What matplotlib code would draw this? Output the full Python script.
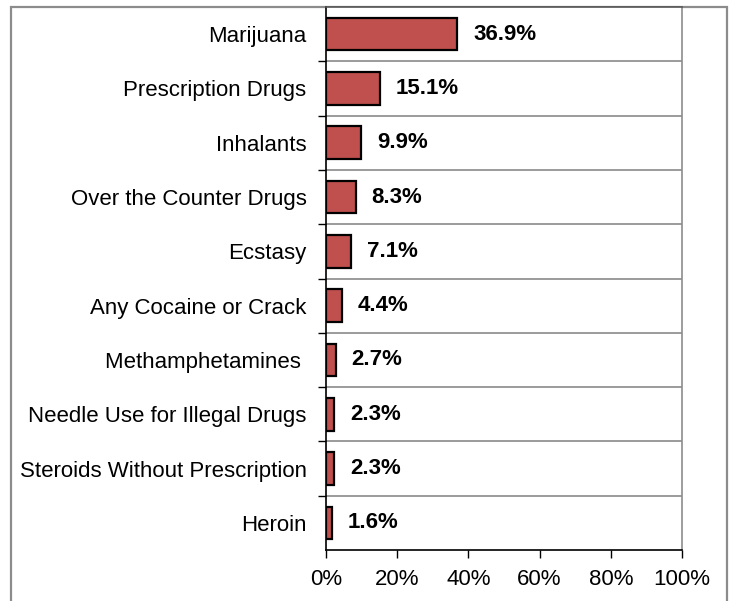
import matplotlib.pyplot as plt
import matplotlib.patches as patches
from matplotlib.ticker import FuncFormatter, FixedLocator
import numpy as np

plt.rcParams['font.family'] = ['Liberation Sans', 'DejaVu Sans']

# data, top row first
categories = ["Marijuana", "Prescription Drugs", "Inhalants", "Over the Counter Drugs",
              "Ecstasy", "Any Cocaine or Crack", "Methamphetamines ",
              "Needle Use for Illegal Drugs", "Steroids Without Prescription", "Heroin"]
values = [36.9, 15.1, 9.9, 8.3, 7.1, 4.4, 2.7, 2.3, 2.3, 1.6]
xticks = [0, 20, 40, 60, 80, 100]

fig = plt.figure(figsize=(7.32, 6.01), dpi=100)
ax = fig.add_axes([326 / 732, 1 - 550 / 601, (682 - 326) / 732, (550 - 7) / 601])

# outer frame of the chart area (bottom is cut off in the original)
fig.add_artist(patches.Rectangle((11 / 732, -0.05), (727 - 11) / 732, 1.05 - 7 / 601,
                                 transform=fig.transFigure, fill=False,
                                 edgecolor="#8c8c8c", linewidth=1.6, zorder=0))

y = np.arange(len(categories))
bars = ax.barh(y, values, height=0.6, color="#C0504D", edgecolor="black",
               linewidth=1.6, zorder=3)

for b, v in zip(bars, values):
    ax.annotate("%.1f%%" % v, xy=(v, b.get_y() + b.get_height() / 2),
                xytext=(11.5, 0), textcoords="offset points",
                ha="left", va="center", fontsize=16, fontweight="bold")

ax.set_xlim(0, 100)
ax.set_ylim(len(categories) - 0.5, -0.5)
ax.set_xticks(xticks)
ax.xaxis.set_major_formatter(FuncFormatter(lambda v, p: "%d%%" % v))

# category labels in the middle of each row, ticks/gridlines on row boundaries
ax.set_yticks(y)
ax.set_yticklabels(categories, fontsize=16)
ax.tick_params(axis="y", length=0, pad=14)
ax.yaxis.set_minor_locator(FixedLocator(np.arange(0.5, len(categories) - 0.5, 1)))
ax.tick_params(axis="y", which="minor", length=6, width=1, direction="out", color="black")
ax.grid(axis="y", which="minor", color="#808080", linewidth=1.1, zorder=0)

ax.tick_params(axis="x", length=6, width=1, direction="out", pad=8, labelsize=16)

ax.spines["left"].set_color("black")
ax.spines["bottom"].set_color("black")
ax.spines["right"].set_color("#8c8c8c")
ax.spines["top"].set_color("#555555")
for s in ax.spines.values():
    s.set_linewidth(1.2)

fig.savefig("out.png", dpi=100)
